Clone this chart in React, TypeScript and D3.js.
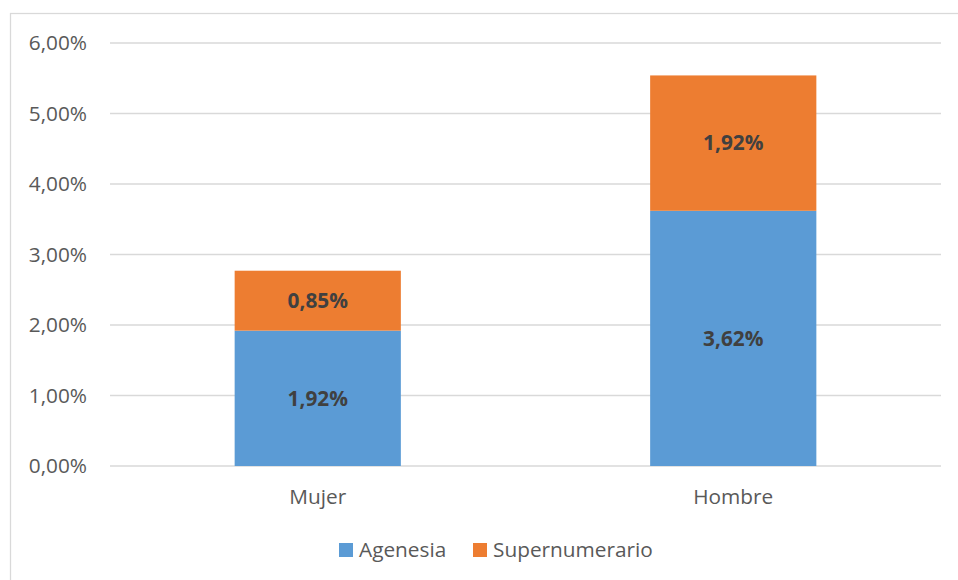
import React from "react";
import * as d3 from "d3";

const categories = ["Mujer", "Hombre"];
const seriesNames = ["Agenesia", "Supernumerario"];
const agenesia = [1.92, 3.62];
const supernumerario = [0.85, 1.92];
const yTicks = [0, 1, 2, 3, 4, 5, 6];
const colors = ["#5B9BD5", "#ED7D31"];

const W = 958;
const H = 580;
const FONT = "'Open Sans', sans-serif";

const fmt = (v: number) => v.toFixed(2).replace(".", ",") + "%";

export default function App() {
  const x = d3.scaleBand<string>().domain(categories).range([110, 941]).paddingInner(0.6).paddingOuter(0.3);
  const y = d3.scaleLinear().domain([0, 6]).range([466, 43]);

  const rows = categories.map((c, i) => ({ cat: c, Agenesia: agenesia[i], Supernumerario: supernumerario[i] }));
  const stacked = d3.stack<any>().keys(seriesNames)(rows);

  const legendItems = [
    { name: seriesNames[0], x: 339 },
    { name: seriesNames[1], x: 473 },
  ];

  return (
    <svg width={W} height={H} style={{ position: "absolute", left: 0, top: 0 }} fontFamily={FONT}>
      <rect x={0} y={0} width={W} height={H} fill="#fff" />
      <rect x={10.5} y={13.5} width={W + 10} height={H + 10} fill="none" stroke="#D9D9D9" strokeWidth={1.25} />
      {yTicks.map((t) => (
        <g key={t}>
          <line x1={110} x2={941} y1={y(t)} y2={y(t)} stroke="#D9D9D9" strokeWidth={1.5} />
          <text x={87} y={y(t)} dy="0.35em" textAnchor="end" fontSize={20.8} fill="#595959">
            {fmt(t)}
          </text>
        </g>
      ))}
      {stacked.map((s, si) => (
        <g key={s.key}>
          {s.map((d: any, i: number) => {
            const bx = x(categories[i])!;
            const y0 = y(d[0]);
            const y1 = y(d[1]);
            return (
              <g key={i}>
                <rect x={bx} y={y1} width={x.bandwidth()} height={y0 - y1} fill={colors[si]} />
                <text
                  x={bx + x.bandwidth() / 2}
                  y={(y0 + y1) / 2}
                  dy="0.35em"
                  textAnchor="middle"
                  fontSize={20.8}
                  fontWeight="bold"
                  fill="#404040"
                >
                  {fmt(d[1] - d[0])}
                </text>
              </g>
            );
          })}
        </g>
      ))}
      {categories.map((c) => (
        <text key={c} x={x(c)! + x.bandwidth() / 2} y={497} dy="0.35em" textAnchor="middle" fontSize={20.8} fill="#595959">
          {c}
        </text>
      ))}
      {legendItems.map((l, i) => (
        <g key={l.name}>
          <rect x={l.x} y={543} width={14} height={14} fill={colors[i]} />
          <text x={l.x + 20} y={550} dy="0.35em" fontSize={20.8} fill="#595959">
            {l.name}
          </text>
        </g>
      ))}
    </svg>
  );
}
